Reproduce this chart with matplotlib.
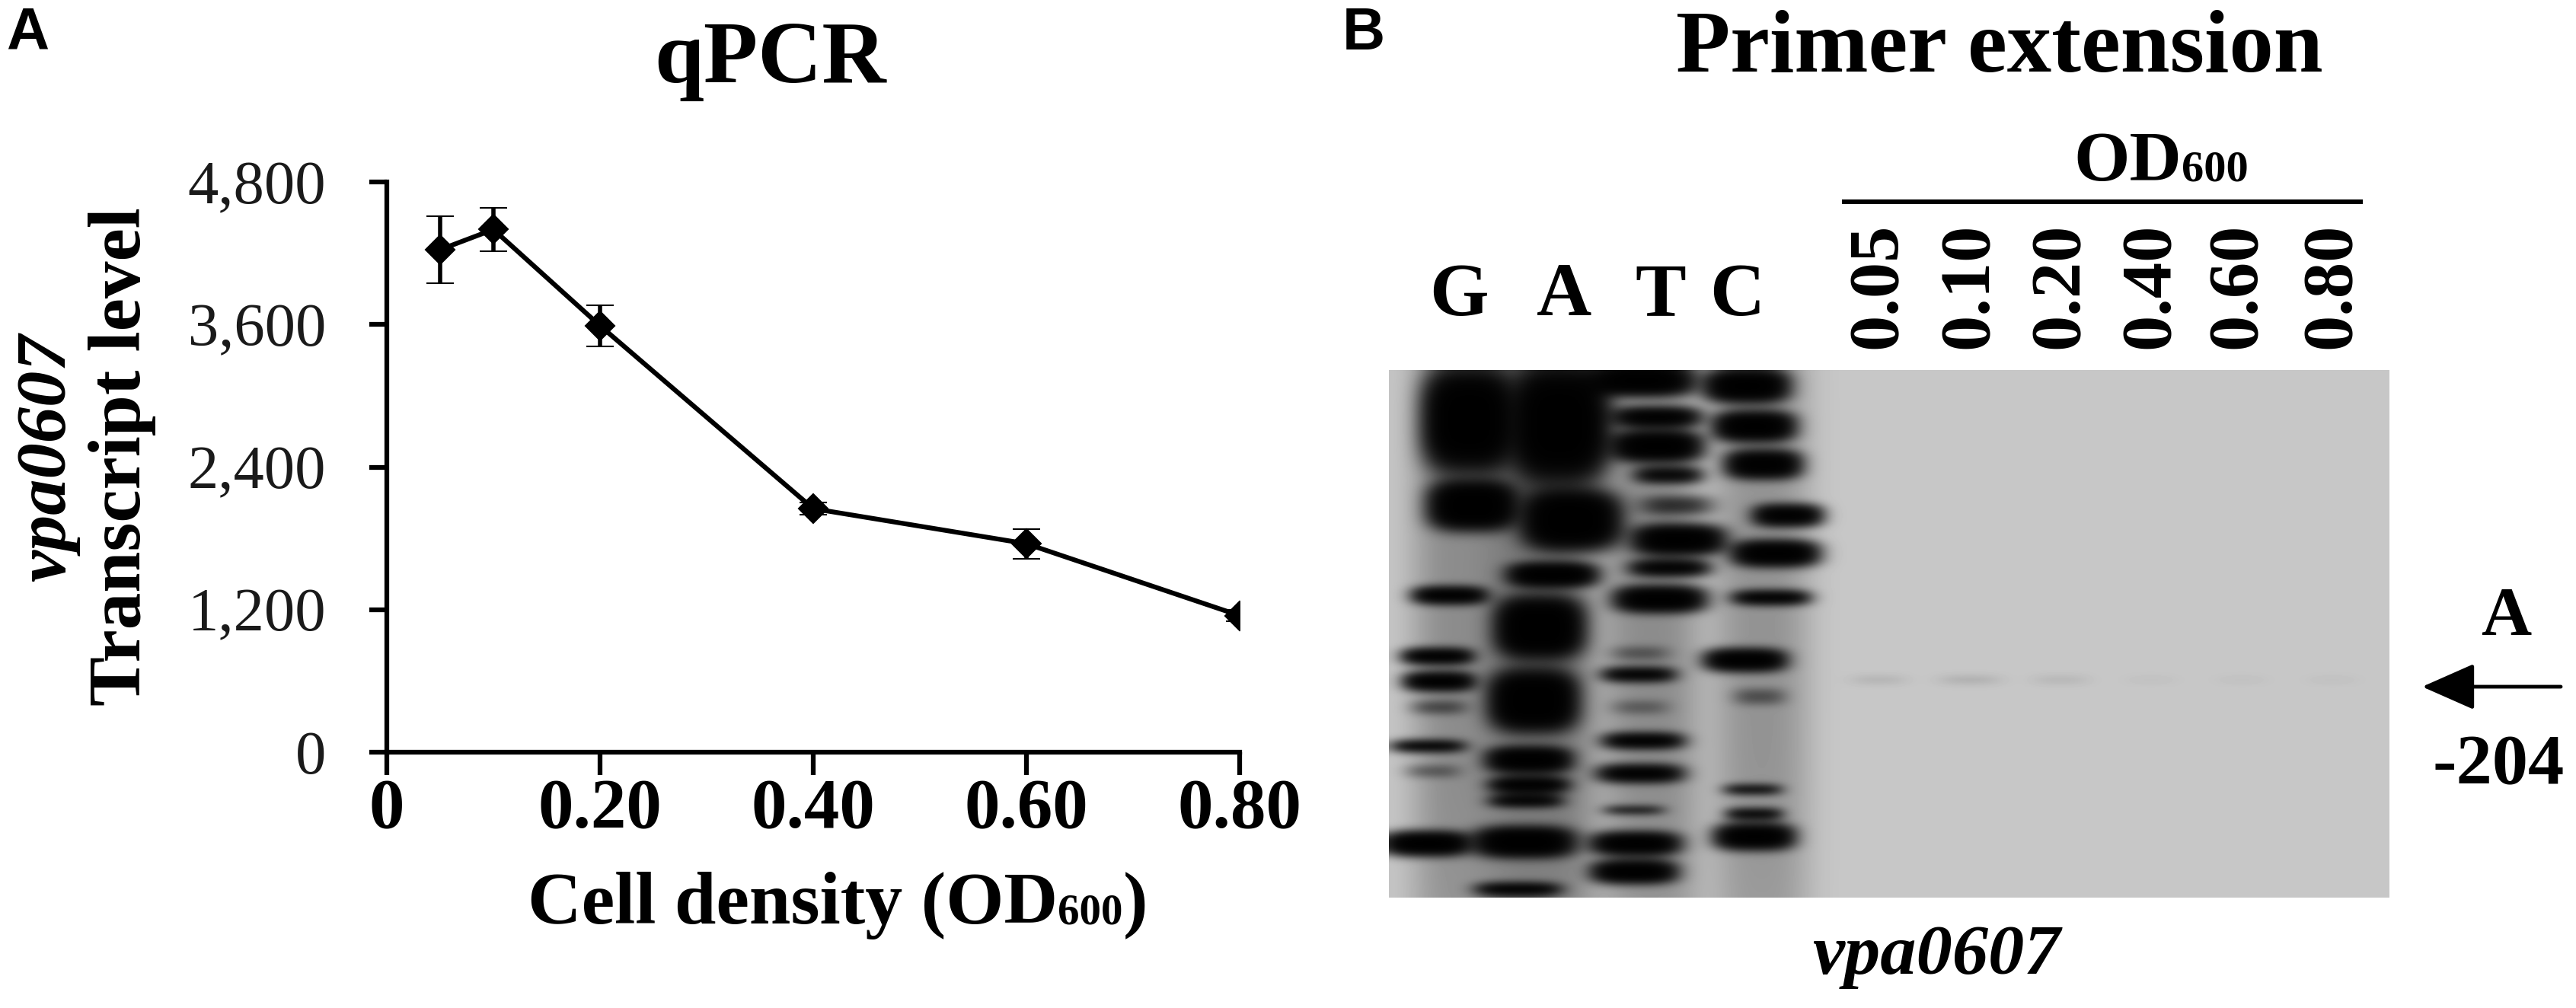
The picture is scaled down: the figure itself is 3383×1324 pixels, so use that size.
import numpy as np
import matplotlib
matplotlib.use("Agg")
import matplotlib.pyplot as plt
from matplotlib.patches import FancyArrowPatch

plt.rcParams['font.family'] = ['Liberation Serif', 'DejaVu Serif']

# ---------------- Panel A data ----------------
od_values = [0.05, 0.10, 0.20, 0.40, 0.60, 0.80]
transcript = [4230, 4400, 3590, 2050, 1755, 1150]
transcript_err = [280, 185, 175, 50, 125, 50]
x_ticks = [0, 0.20, 0.40, 0.60, 0.80]
x_ticklabels = ['0', '0.20', '0.40', '0.60', '0.80']
y_ticks = [0, 1200, 2400, 3600, 4800]
y_ticklabels = ['0', '1,200', '2,400', '3,600', '4,800']

# ---------------- Panel B data ----------------
ladder_labels = ['G', 'A', 'T', 'C']
od_lane_labels = ['0.05', '0.10', '0.20', '0.40', '0.60', '0.80']
# gel bands (gel pixel units: x from gel left, y from gel top), visible width/height, darkness
band_x = [105, 110, 80, 64, 66, 66, 52, 58, 50,
          225, 240, 215, 198, 190, 184, 184, 180, 178, 170,
          332, 352, 352, 367, 378, 381, 369, 356, 330, 328, 330, 334, 330, 322, 324, 322,
          470, 480, 492, 524, 508, 502, 468, 487, 478, 480, 480,
          643, 763, 882, 1001, 1120, 1239,
          95, 205, 345, 490]
band_y = [65, 178, 296, 376, 409, 443, 494, 527, 622,
          70, 197, 269, 338, 434, 512, 545, 566, 620, 682,
          14, 62, 100, 138, 178, 223, 260, 301, 372, 400, 443, 487, 530, 578, 622, 659,
          21, 74, 124, 191, 241, 299, 381, 429, 551, 583, 613,
          407, 407, 407, 407, 407, 407,
          346, 346, 346, 346]
band_w = [130, 125, 105, 100, 100, 90, 105, 90, 120,
          140, 140, 125, 125, 125, 120, 112, 105, 140, 120,
          150, 125, 128, 100, 115, 130, 115, 128, 95, 105, 95, 115, 122, 90, 125, 120,
          120, 115, 108, 100, 122, 110, 115, 85, 85, 82, 112,
          95, 105, 95, 90, 90, 90,
          165, 170, 160, 160]
band_h = [150, 70, 26, 24, 28, 22, 18, 20, 35,
          170, 85, 35, 88, 88, 38, 24, 19, 44, 20,
          44, 30, 45, 25, 30, 44, 25, 38, 22, 22, 22, 24, 27, 12, 34, 34,
          48, 44, 42, 33, 38, 22, 33, 26, 15, 17, 38,
          13, 13, 13, 12, 12, 12,
          1600, 1600, 1600, 1600]
band_s = [6, 6, 5, 5, 5, 0.8, 4, 0.6, 6,
          6, 6, 6, 6, 6, 5.5, 5, 4, 6, 4.5,
          5.5, 4.5, 5.5, 3, 1.2, 5.5, 4, 5.5, 0.6, 4, 0.5, 4.5, 4.5, 2.5, 5.5, 5.5,
          5.5, 5.5, 5, 4.5, 5.5, 4.5, 5.5, 0.7, 3, 3.5, 5.5,
          0.13, 0.16, 0.11, 0.04, 0.04, 0.04,
          0.35, 0.5, 0.35, 0.3]
gel_w, gel_h = 1314, 693
gel_bg = 0.78

W, H = 3383, 1324
fig = plt.figure(figsize=(W / 100, H / 100), dpi=100)

def fx(px):
    return px / W

def fy(py):
    return 1 - py / H

# ---------------- Panel A ----------------
axA = fig.add_axes([fx(508), fy(988), (1628 - 508) / W, (988 - 239) / H])
axA.errorbar(od_values, transcript, yerr=transcript_err, color='black', lw=4.5,
             marker='D', ms=19, mew=1.5, mfc='black', mec='black',
             elinewidth=4.0, capsize=13, capthick=4.5, zorder=3)
axA.set_xlim(0, 0.8)
axA.set_ylim(0, 4800)
axA.set_xticks(x_ticks)
axA.set_xticklabels(x_ticklabels, fontsize=67, fontweight='bold')
axA.set_yticks(y_ticks)
axA.set_yticklabels(y_ticklabels, fontsize=58, color='#1a1a1a')
for s in ['top', 'right']:
    axA.spines[s].set_visible(False)
for s in ['left', 'bottom']:
    axA.spines[s].set_linewidth(4.5)
axA.tick_params(axis='y', length=16.5, width=4.5, pad=41, direction='out')
axA.tick_params(axis='x', length=21.5, width=4.5, pad=3, direction='out')
axA.patch.set_alpha(0)

# ---------------- Panel B gel ----------------
axG = fig.add_axes([fx(1824), fy(1179), gel_w / W, gel_h / H])
gx, gy = np.meshgrid(np.arange(gel_w) + 0.5, np.arange(gel_h) + 0.5)
dens = np.zeros_like(gx)
for bx, by, bw, bh, bs in zip(band_x, band_y, band_w, band_h, band_s):
    q = np.abs((gx - bx) / (bw / 2.6)) ** 3 + np.abs((gy - by) / (bh / 2.6)) ** 3
    dens += bs * np.exp(-q)
gel = gel_bg * np.exp(-dens)
# soft blur of the scanned image
k = np.exp(-0.5 * (np.arange(-12, 13) / 4.5) ** 2)
k /= k.sum()
pad = 12
gp = np.pad(gel, pad, mode='edge')
gp = np.apply_along_axis(lambda m: np.convolve(m, k, mode='same'), 1, gp)
gp = np.apply_along_axis(lambda m: np.convolve(m, k, mode='same'), 0, gp)
gel = gp[pad:-pad, pad:-pad]
axG.imshow(gel, cmap='gray', vmin=0, vmax=1, extent=[0, gel_w, gel_h, 0],
           aspect='auto', interpolation='bilinear')
axG.set_xlim(0, gel_w)
axG.set_ylim(gel_h, 0)
axG.axis('off')

# ---------------- Overlay for text/annotations ----------------
axO = fig.add_axes([0, 0, 1, 1])
axO.set_xlim(0, W)
axO.set_ylim(H, 0)
axO.axis('off')
axO.patch.set_alpha(0)

renderer = fig.canvas.get_renderer()

def composite(xc, yb, parts):
    texts = []
    for s, size, kw in parts:
        t = axO.text(0, yb, s, fontsize=size, ha='left', va='baseline', **kw)
        texts.append(t)
    widths = [t.get_window_extent(renderer).width for t in texts]
    x = xc - sum(widths) / 2
    for t, w in zip(texts, widths):
        t.set_x(x)
        x += w

# panel letters
axO.text(8, 65, 'A', fontsize=56, fontweight='bold', family='Liberation Sans',
         ha='left', va='baseline')
axO.text(1763, 65, 'B', fontsize=56, fontweight='bold', family='Liberation Sans',
         ha='left', va='baseline')

# titles
axO.text(1012, 108, 'qPCR', fontsize=84, fontweight='bold', ha='center', va='baseline')
axO.text(2626, 94, 'Primer extension', fontsize=84, fontweight='bold', ha='center', va='baseline')

# y-axis labels
axO.text(161, 600, 'Transcript level', fontsize=70, fontweight='bold', rotation=90,
         ha='center', va='center')
axO.text(63, 601, 'vpa0607', fontsize=68, fontweight='bold', fontstyle='italic',
         rotation=90, ha='center', va='center')

# x-axis label
composite(1100, 1213, [('Cell density (OD', 70.5, dict(fontweight='bold')),
                       ('600', 41, dict(fontweight='bold')),
                       (')', 70.5, dict(fontweight='bold'))])

# ladder labels
for lab, xc in zip(ladder_labels, [1916, 2054, 2181, 2281]):
    axO.text(xc, 414, lab, fontsize=72, fontweight='bold', ha='center', va='baseline')

# OD600 header and bar
composite(2838, 237, [('OD', 68, dict(fontweight='bold')),
                      ('600', 42, dict(fontweight='bold'))])
axO.plot([2419, 3103], [265, 265], color='black', lw=4.3, solid_capstyle='butt')

# lane labels
for lab, xc in zip(od_lane_labels, [2467, 2587, 2706, 2825, 2939, 3063]):
    axO.text(xc, 375, lab, fontsize=68, fontweight='bold', rotation=90,
             ha='center', va='center')

# arrow and labels
arr = FancyArrowPatch((3363, 902), (3181, 902), arrowstyle='-|>,head_length=43,head_width=19',
                      mutation_scale=1, shrinkA=0, shrinkB=0, lw=3.5, color='black')
axO.add_patch(arr)
axO.text(3291, 834, 'A', fontsize=66, fontweight='bold', ha='center', va='baseline')
axO.text(3281, 1029, '-204', fontsize=68, fontweight='bold', ha='center', va='baseline')
axO.text(2543, 1279, 'vpa0607', fontsize=68, fontweight='bold', fontstyle='italic',
         ha='center', va='baseline')

fig.savefig('out.png', dpi=100)
